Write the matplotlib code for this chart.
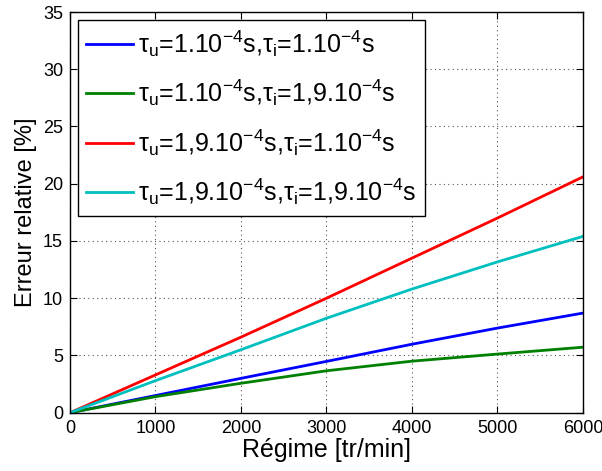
import numpy as np
import matplotlib
matplotlib.use("Agg")
import matplotlib.pyplot as plt

plt.rcParams["font.family"] = ["Liberation Sans", "DejaVu Sans"]
plt.rcParams["mathtext.fontset"] = "custom"
plt.rcParams["mathtext.rm"] = "Liberation Sans"
plt.rcParams["mathtext.it"] = "Liberation Sans"

# valeurs
regime = [0, 1000, 2000, 3000, 4000, 5000, 6000]
err_bleu = [0, 1.5, 3.0, 4.48, 5.98, 7.39, 8.7]
err_vert = [0, 1.4, 2.57, 3.66, 4.5, 5.12, 5.72]
err_rouge = [0, 3.3, 6.6, 10.0, 13.5, 17.0, 20.6]
err_cyan = [0, 2.8, 5.5, 8.25, 10.8, 13.17, 15.4]

labels = [
    r"τ$_\mathregular{u}$=1.10$^{\mathregular{-4}}$s,τ$_\mathregular{i}$=1.10$^{\mathregular{-4}}$s",
    r"τ$_\mathregular{u}$=1.10$^{\mathregular{-4}}$s,τ$_\mathregular{i}$=1,9.10$^{\mathregular{-4}}$s",
    r"τ$_\mathregular{u}$=1,9.10$^{\mathregular{-4}}$s,τ$_\mathregular{i}$=1.10$^{\mathregular{-4}}$s",
    r"τ$_\mathregular{u}$=1,9.10$^{\mathregular{-4}}$s,τ$_\mathregular{i}$=1,9.10$^{\mathregular{-4}}$s",
]
couleurs = ["#0000ff", "#008000", "#ff0000", "#00bfbf"]

fig = plt.figure(figsize=(6.02, 4.71), dpi=100)
ax = fig.add_axes([0.1163, 0.1238, 0.8520, 0.8507])

for y, c, lab in zip([err_bleu, err_vert, err_rouge, err_cyan], couleurs, labels):
    ax.plot(regime, y, color=c, lw=2, label=lab)

ax.set_xlim(0, 6000)
ax.set_ylim(0, 35)
ax.set_xticks(np.arange(0, 6001, 1000))
ax.set_yticks(np.arange(0, 36, 5))
ax.grid(True, linestyle=(0, (1, 3)), color="#555555", linewidth=0.8)
ax.tick_params(direction="in", top=True, right=True, labelsize=13, length=5, pad=5)
for s in ax.spines.values():
    s.set_linewidth(1)
ax.set_xlabel("Régime [tr/min]", fontsize=18, labelpad=1)
ax.set_ylabel("Erreur relative [%]", fontsize=17, labelpad=4)

leg = ax.legend(loc="upper left", bbox_to_anchor=(0, 1), borderaxespad=0.3,
                fontsize=18, fancybox=False, framealpha=1, edgecolor="black",
                handlelength=1.85, handletextpad=0.2, labelspacing=0.75,
                borderpad=0.35)
leg.get_frame().set_linewidth(1)

fig.savefig("out.png", dpi=100)
